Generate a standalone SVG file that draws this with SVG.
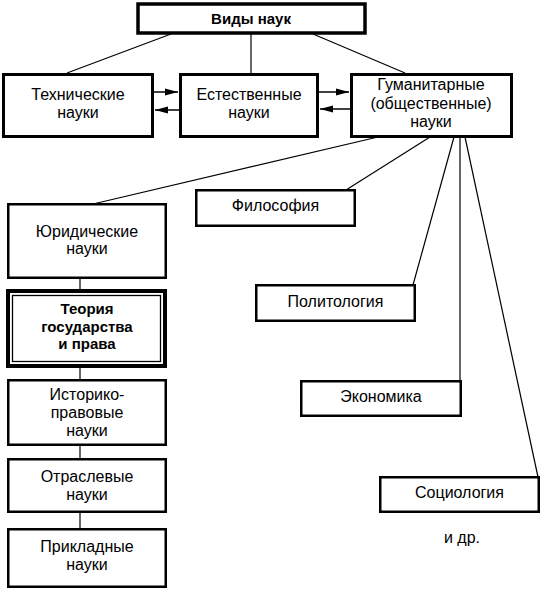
<svg xmlns="http://www.w3.org/2000/svg" width="542" height="589" viewBox="0 0 542 589">
<style>
  .box { fill: #fff; stroke: #000; stroke-width: 2.5; }
  .box3 { fill: #fff; stroke: #000; stroke-width: 3; }
  .t { font-family: "Liberation Sans", Arial, sans-serif; font-size: 16px; fill: #000; text-anchor: middle; }
  .b { font-family: "Liberation Sans", Arial, sans-serif; font-size: 15px; font-weight: bold; fill: #000; text-anchor: middle; }
  .c { stroke: #000; stroke-width: 1.2; fill: none; }
  .a { stroke: #000; stroke-width: 1.5; fill: none; marker-end: url(#arr); }
</style>
<defs>
  <marker id="arr" markerUnits="userSpaceOnUse" markerWidth="14" markerHeight="8" refX="13" refY="4" orient="auto">
    <path d="M0,0.5 L13,4 L0,7.5 z" fill="#000"/>
  </marker>
</defs>
<rect width="542" height="589" fill="#fff"/>
<g id="connectors">
  <line class="c" x1="171" y1="34" x2="67" y2="73"/>
  <line class="c" x1="251" y1="34" x2="251" y2="73"/>
  <line class="c" x1="313" y1="34" x2="405" y2="73"/>
  <line class="a" x1="154" y1="92" x2="178" y2="92"/>
  <line class="a" x1="179" y1="110" x2="155" y2="110"/>
  <line class="a" x1="319" y1="92" x2="349" y2="92"/>
  <line class="a" x1="350" y1="109" x2="320" y2="109"/>
  <line class="c" x1="378" y1="137" x2="93" y2="204"/>
  <line class="c" x1="430" y1="137" x2="346" y2="190"/>
  <line class="c" x1="454" y1="137" x2="413" y2="285"/>
  <line class="c" x1="460" y1="137" x2="460" y2="381"/>
  <line class="c" x1="465" y1="137" x2="538" y2="477"/>
  <line class="c" x1="80" y1="279" x2="80" y2="290"/>
  <line class="c" x1="80" y1="367" x2="80" y2="380"/>
  <line class="c" x1="80" y1="445" x2="80" y2="459"/>
  <line class="c" x1="80" y1="512" x2="80" y2="529"/>
</g>
<g id="vidy-nauk">
  <rect x="138" y="4" width="227" height="29" fill="#fff" stroke="#000" stroke-width="3.5"/>
  <text class="b" x="251" y="24">Виды наук</text>
</g>
<g id="tekhnicheskie">
  <rect class="box3" x="3.5" y="74.5" width="149" height="62"/>
  <text class="t" x="78" y="100">Технические</text>
  <text class="t" x="78" y="118">науки</text>
</g>
<g id="estestvennye">
  <rect class="box3" x="180.5" y="74.5" width="137" height="62"/>
  <text class="t" x="249" y="100">Естественные</text>
  <text class="t" x="249" y="118">науки</text>
</g>
<g id="gumanitarnye">
  <rect class="box3" x="351.5" y="74.5" width="160" height="62"/>
  <text class="t" x="431" y="90">Гуманитарные</text>
  <text class="t" x="431" y="108.5">(общественные)</text>
  <text class="t" x="431" y="127">науки</text>
</g>
<g id="yuridicheskie">
  <rect class="box" x="8.25" y="204.25" width="157.5" height="73.5"/>
  <text class="t" x="87" y="237">Юридические</text>
  <text class="t" x="87" y="254">науки</text>
</g>
<g id="teoriya">
  <rect x="8" y="291" width="157" height="75" fill="#fff" stroke="#000" stroke-width="4"/>
  <rect x="12.5" y="295.5" width="148" height="66" fill="none" stroke="#000" stroke-width="1.3"/>
  <text class="b" x="87" y="314">Теория</text>
  <text class="b" x="87" y="332">государства</text>
  <text class="b" x="87" y="349">и права</text>
</g>
<g id="istoriko">
  <rect class="box" x="8.25" y="380.25" width="157.5" height="64.5"/>
  <text class="t" x="87" y="400">Историко-</text>
  <text class="t" x="87" y="418">правовые</text>
  <text class="t" x="87" y="436">науки</text>
</g>
<g id="otraslevye">
  <rect class="box" x="8.25" y="459.25" width="157.5" height="52.5"/>
  <text class="t" x="87" y="482">Отраслевые</text>
  <text class="t" x="87" y="500">науки</text>
</g>
<g id="prikladnye">
  <rect class="box" x="8.25" y="529.25" width="157.5" height="57.5"/>
  <text class="t" x="87" y="552">Прикладные</text>
  <text class="t" x="87" y="570">науки</text>
</g>
<g id="filosofiya">
  <rect class="box" x="196.25" y="190.25" width="158.5" height="35.5"/>
  <text class="t" x="275.5" y="211">Философия</text>
</g>
<g id="politologiya">
  <rect class="box" x="256.25" y="285.25" width="158.5" height="35.5"/>
  <text class="t" x="335.5" y="307">Политология</text>
</g>
<g id="ekonomika">
  <rect class="box" x="301.25" y="381.25" width="159.5" height="34.5"/>
  <text class="t" x="381" y="402">Экономика</text>
</g>
<g id="sotsiologiya">
  <rect class="box" x="380.25" y="477.25" width="158.5" height="34.5"/>
  <text class="t" x="459.5" y="498">Социология</text>
</g>
<g id="i-dr">
  <text class="t" x="462" y="543">и др.</text>
</g>
</svg>
